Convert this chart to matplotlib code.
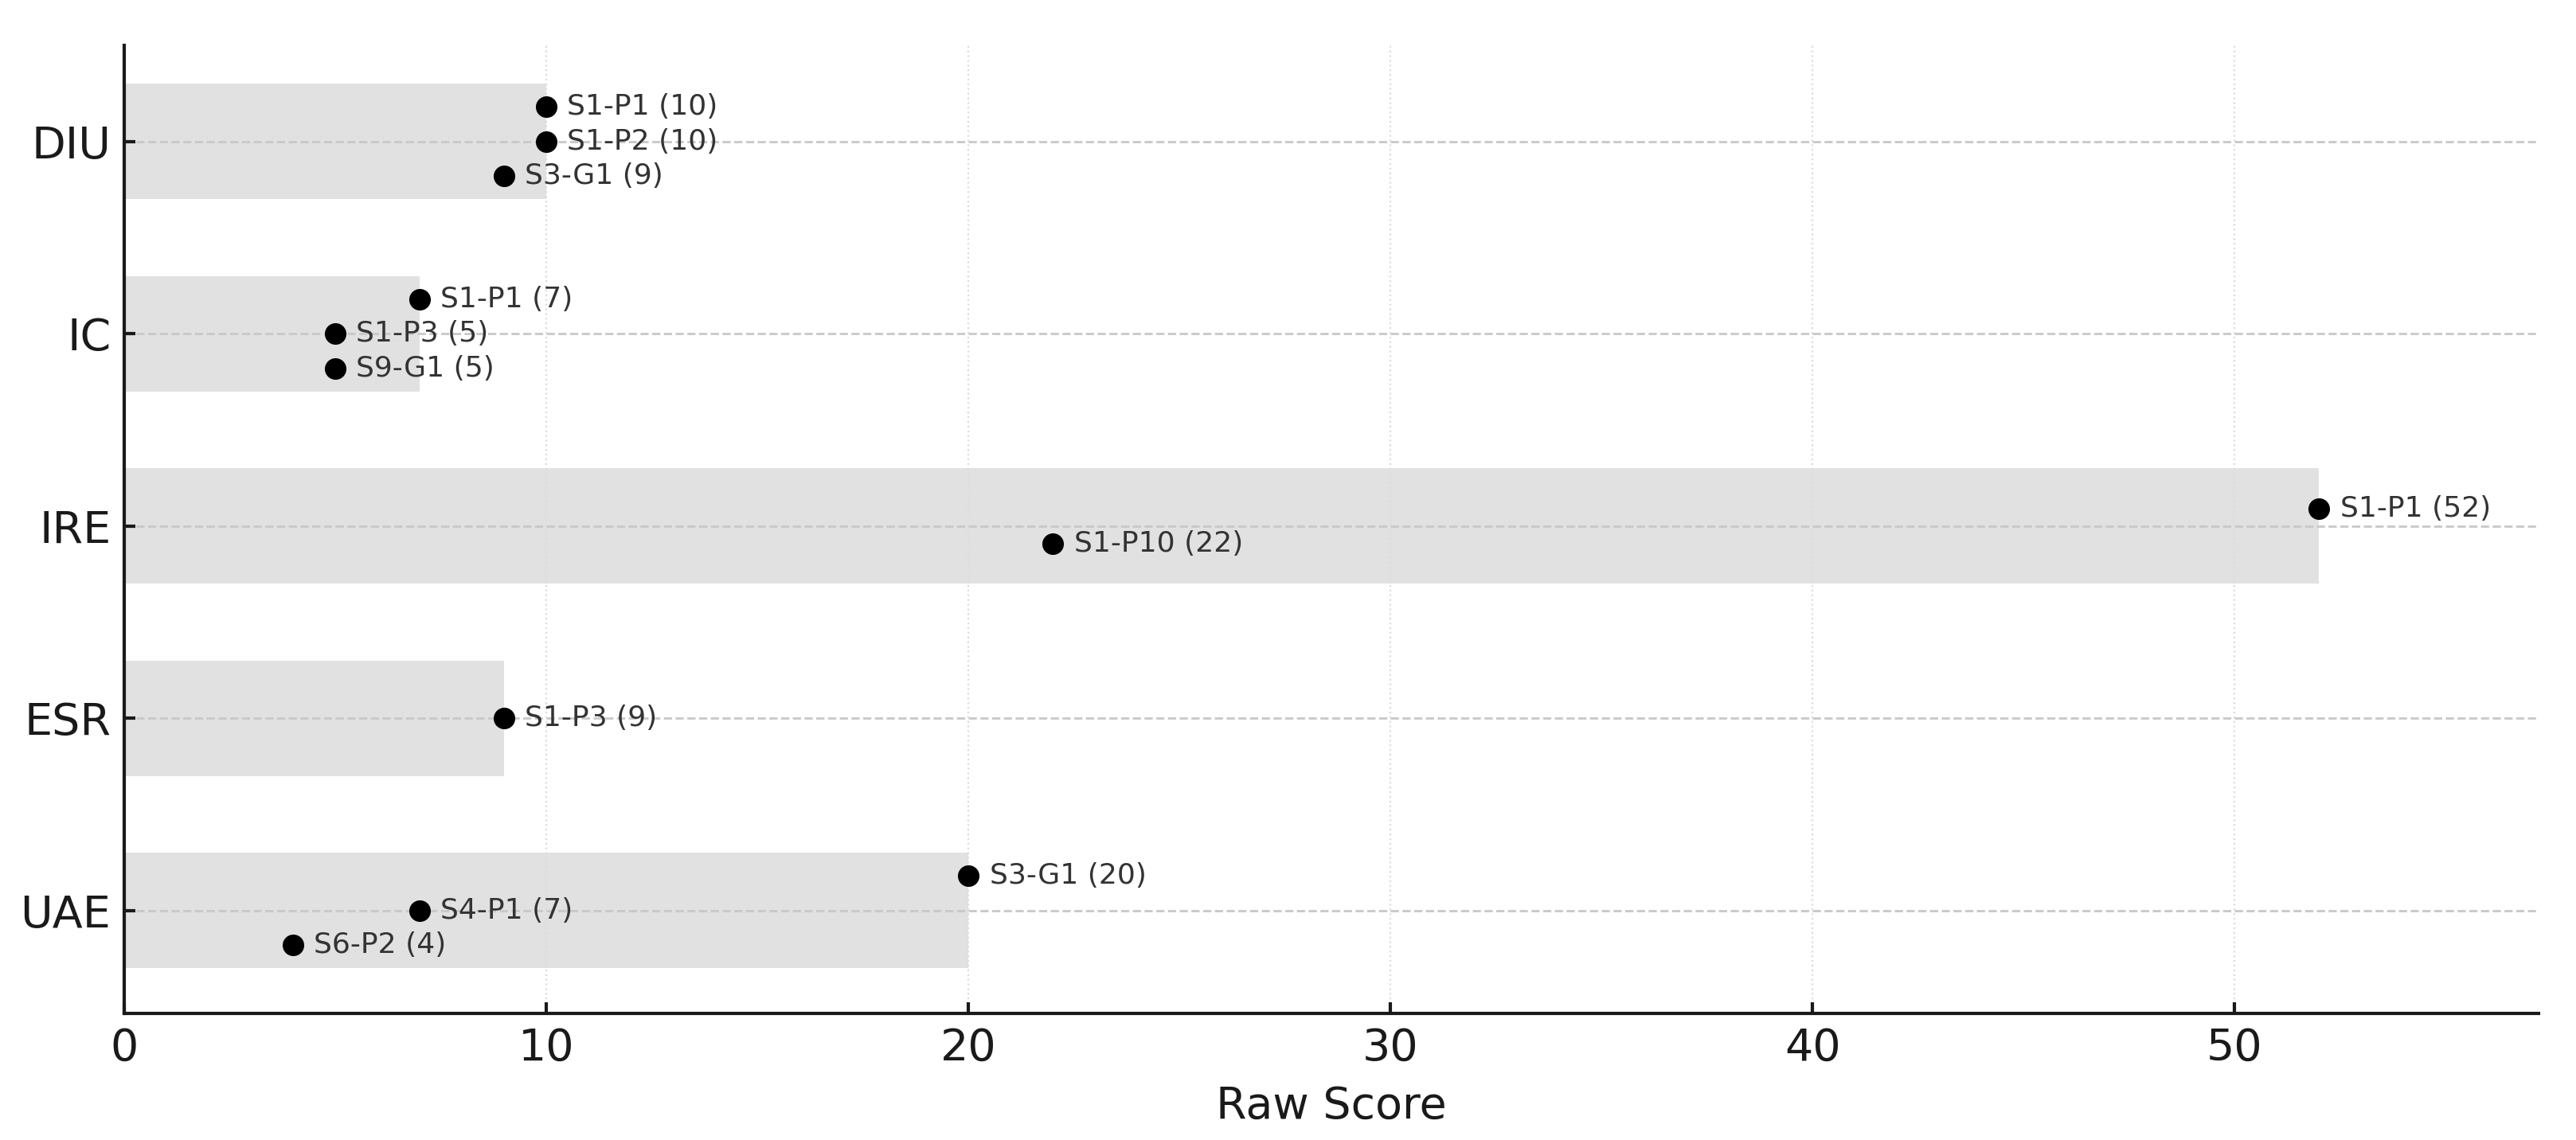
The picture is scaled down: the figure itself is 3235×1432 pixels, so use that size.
import numpy as np
import matplotlib.pyplot as plt

# categories from bottom to top
categories = ['UAE', 'ESR', 'IRE', 'IC', 'DIU']
# entries per category, top entry first
entry_labels = [
    ['S3-G1', 'S4-P1', 'S6-P2'],
    ['S1-P3'],
    ['S1-P1', 'S1-P10'],
    ['S1-P1', 'S1-P3', 'S9-G1'],
    ['S1-P1', 'S1-P2', 'S3-G1'],
]
entry_scores = [
    [20, 7, 4],
    [9],
    [52, 22],
    [7, 5, 5],
    [10, 10, 9],
]
x_ticks = [0, 10, 20, 30, 40, 50]

fig = plt.figure(figsize=(16.175, 7.16), dpi=200)
ax = fig.add_axes([0.0482, 0.111, 0.9373, 0.8492])

ypos = np.arange(len(categories))
bar_len = [max(s) for s in entry_scores]
ax.barh(ypos, bar_len, height=0.6, color='#e1e1e1', zorder=1)

step = 0.18
for y, labs, scores in zip(ypos, entry_labels, entry_scores):
    n = len(scores)
    for i, (lab, sc) in enumerate(zip(labs, scores)):
        yy = y + ((n - 1) / 2 - i) * step
        ax.scatter(sc, yy, s=95, color='black', zorder=3, linewidths=0)
        ax.annotate(f'{lab} ({sc})', (sc, yy), xytext=(9.5, 0),
                    textcoords='offset points', va='center', ha='left',
                    fontsize=13, color='#333333', zorder=4)

ax.set_xlim(0, max(bar_len) * 1.1)
ax.set_ylim(-0.535, 4.5)
ax.set_yticks(ypos)
ax.set_yticklabels(categories)
ax.set_xticks(x_ticks)

ax.xaxis.grid(True, linestyle=':', color='#dcdcdc', linewidth=0.8)
ax.yaxis.grid(True, linestyle='--', color='#c8c8c8', linewidth=1.0)

for side in ['top', 'right']:
    ax.spines[side].set_visible(False)
for side in ['left', 'bottom']:
    ax.spines[side].set_linewidth(1.5)
    ax.spines[side].set_color('#1a1a1a')

ax.tick_params(axis='both', direction='in', length=5, width=1.5,
               labelsize=20, pad=6, colors='#1a1a1a')
ax.set_xlabel('Raw Score', fontsize=20, color='#1a1a1a', labelpad=7)

fig.savefig('out.png', dpi=200)
